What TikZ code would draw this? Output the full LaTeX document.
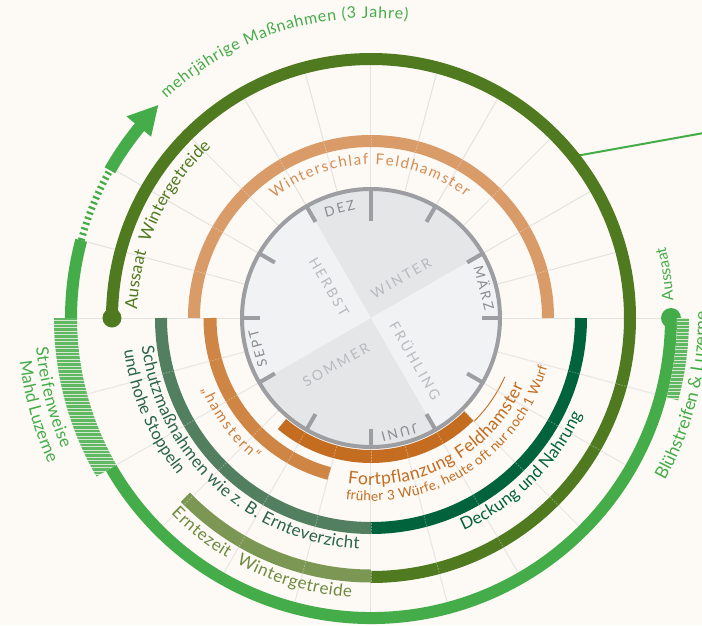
\documentclass[tikz,border=0pt]{standalone}
\usepackage{fontspec}
\setmainfont{Lato}
\newfontfamily\spacedfont[LetterSpace=18]{Lato}
\usetikzlibrary{decorations.text}
\definecolor{bg}{HTML}{FDF9F5}
\definecolor{gridc}{HTML}{E5E2DF}
\definecolor{qdark}{HTML}{E5E6E8}
\definecolor{qlight}{HTML}{F1F2F4}
\definecolor{ringgray}{HTML}{9D9EA2}
\definecolor{monthc}{HTML}{8A8B8F}
\definecolor{seasonc}{HTML}{B8B9BC}
\definecolor{tan}{HTML}{D99C69}
\definecolor{tantext}{HTML}{D38D55}
\definecolor{org}{HTML}{CF8543}
\definecolor{orgtext}{HTML}{CC7E3B}
\definecolor{dorg}{HTML}{C46C1F}
\definecolor{teal}{HTML}{537F61}
\definecolor{tealtext}{HTML}{29644A}
\definecolor{dgreen}{HTML}{00633B}
\definecolor{oliv}{HTML}{4F7A20}
\definecolor{olivL}{HTML}{7C9753}
\definecolor{olivtext}{HTML}{6E8A40}
\definecolor{bgreen}{HTML}{44AC48}
\newcommand{\fsz}[1]{\fontsize{#1}{#1}\selectfont}
% #1 format, #2 radius, #3 start angle, #4 end angle, #5 alignment, #6 text
\newcommand{\arctext}[6]{%
  \path[decorate,decoration={text along path,text={|#1|#6},text align={#5}}]
    (#3:#2pt) arc[start angle=#3,end angle=#4,radius=#2pt];}
\tikzset{
  gridline/.style={gridc,line width=1pt},
  gridover/.style={white,opacity=0.35,line width=0.9pt,dash pattern=on 1.5pt off 1.5pt},
  band/.style={line width=12pt},
  hatchline/.style={bgreen!85!white,line width=0.5pt},
  month/.style={font={\spacedfont\fsz{13.5}},text=monthc,inner sep=0pt},
  season/.style={font={\spacedfont\fsz{14}},text=seasonc,inner sep=0pt},
  tickline/.style={ringgray,line width=4pt},
}
\begin{document}
\begin{tikzpicture}[x=1pt,y=1pt]
\fill[bg] (-371,-307) rectangle (331,318);
\useasboundingbox (-371,-307) rectangle (331,318);

% grid lines
\foreach \a in {15,30,...,135} \draw[gridline] (\a:131pt) -- (\a:253pt);
\foreach \a in {150,165} \draw[gridline] (\a:131pt) -- (\a:294pt);
\foreach \a in {195,210,...,345} \draw[gridline] (\a:131pt) -- (\a:294pt);
\draw[gridline] (-316,0) -- (300,0);

% connector line to the right
\coordinate (cstart) at (38.6:259pt);
\coordinate (cend) at (345,187.2);
\draw[bgreen,line width=2pt] (cstart) -- (cend);

% rings
\draw[band,tan] (180:177pt) arc[start angle=180,end angle=0,radius=177pt];
\draw[band,org,line width=13pt] (180:161pt) arc[start angle=180,end angle=255,radius=161pt];
\draw[band,dorg,line width=13pt] (230:138.5pt) arc[start angle=230,end angle=315,radius=138.5pt];
\draw[dorg,line width=0.9pt] (-45:146pt) arc[start angle=-45,end angle=-24,radius=148pt];
\draw[band,teal] (180:210pt) arc[start angle=180,end angle=270,radius=210pt];
\draw[band,dgreen] (270:210pt) arc[start angle=270,end angle=360,radius=210pt];
\draw[band,oliv] (180:259pt) arc[start angle=180,end angle=-90,radius=259pt];
\draw[band,olivL,line width=13pt] (224:258pt) arc[start angle=224,end angle=270,radius=258pt];
\fill[oliv] (180:259pt) circle[radius=9.5pt];

% bright green outer ring
\draw[band,bgreen] (210:300pt) arc[start angle=210,end angle=360,radius=300pt];
\fill[bgreen] (0:300pt) circle[radius=10pt];
\draw[band,bgreen] (180:300pt) arc[start angle=180,end angle=165,radius=300pt];
\draw[bgreen,line width=7pt,dash pattern=on 2.2pt off 3.3pt] (165:300pt) arc[start angle=165,end angle=150.5,radius=300pt];
\draw[band,bgreen] (150.5:300pt) arc[start angle=150.5,end angle=139.3,radius=300pt];
\fill[bgreen] (135:301pt) -- (140.5:317pt) -- (140.5:285pt) -- cycle;

% hatched parts
\begin{scope}
  \clip (180:294pt) arc[start angle=180,end angle=210,radius=294pt] -- (210:317pt) arc[start angle=210,end angle=180,radius=317pt] -- cycle;
  \fill[bgreen!22!bg] (-330,-170) rectangle (-240,1);
  \foreach \yy in {0,-1.4,...,-170} \draw[hatchline] (-330,\yy) -- (-240,\yy);
\end{scope}
\begin{scope}
  \clip (0:306pt) arc[start angle=0,end angle=-15,radius=306pt] -- (-15:318pt) arc[start angle=-15,end angle=0,radius=318pt] -- cycle;
  \fill[bgreen!22!bg] (290,-90) rectangle (330,0);
  \foreach \yy in {-1,-2.4,...,-90} \draw[hatchline] (290,\yy) -- (330,\yy);
\end{scope}

% faint grid over the rings
\foreach \a in {15,30,...,165} \draw[gridover] (\a:160pt) -- (\a:185pt);
\foreach \a in {195,210,...,345} \draw[gridover] (\a:133pt) -- (\a:294pt);

% inner disc
\fill[qdark] (0,0) -- (30:129pt) arc[start angle=30,end angle=120,radius=129pt] -- cycle;
\fill[qlight] (0,0) -- (120:129pt) arc[start angle=120,end angle=210,radius=129pt] -- cycle;
\fill[qdark] (0,0) -- (210:129pt) arc[start angle=210,end angle=300,radius=129pt] -- cycle;
\fill[qlight] (0,0) -- (300:129pt) arc[start angle=300,end angle=390,radius=129pt] -- cycle;
\draw[ringgray,line width=4pt] (0,0) circle[radius=129pt];
\foreach \a in {0,30,...,330} \draw[tickline] (\a:129pt) -- (\a:111pt);
\draw[tickline] (90:129pt) -- (90:97pt);

% months and seasons
\node[month,rotate=15] (dez) at (106:114pt) {DEZ};
\node[month,rotate=-75] (maerz) at (15:118pt) {MÄRZ};
\node[month,rotate=-165] (juni) at (-76:118pt) {JUNI};
\node[month,rotate=105] (sept) at (195:117pt) {SEPT};
\node[season,rotate=30] (winter) at (30,40) {WINTER};
\node[season,rotate=-60] (herbst) at (-42,31) {HERBST};
\node[season,rotate=-60] (fruehling) at (45,-42) {FRÜHLING};
\node[season,rotate=30] (sommer) at (-35,-47) {SOMMER};

% arc texts
\arctext{\fsz{16}\color{bgreen}}{300}{133}{83}{fit to path}{mehrjährige Maßnahmen (3 Jahre)}
\arctext{\fsz{17}\color{oliv}}{234}{178}{133}{fit to path}{Aussaat{\kern5pt} Wintergetreide}
\arctext{\fsz{15}\color{tantext}}{153.5}{129}{52}{fit to path}{Winterschlaf Feldhamster}
\arctext{\fsz{15}\color{orgtext}}{184}{203}{231}{fit to path}{„hamstern“}
\arctext{\fsz{17}\color{tealtext}}{231}{187}{267}{fit to path}{Schutzmaßnahmen wie z. B. Ernteverzicht}
\arctext{\fsz{16.5}\color{tealtext}}{249}{187.4}{219}{fit to path}{und hohe Stoppeln}
\arctext{\fsz{17}\color{olivtext}}{280}{224.4}{266}{fit to path}{Erntezeit{\kern5pt} Wintergetreide}
\arctext{\fsz{17}\color{dgreen}}{232}{-66.5}{-24.6}{fit to path}{Deckung und Nahrung}
\arctext{\fsz{17.5}\color{dorg}}{167}{262}{336}{fit to path}{Fortpflanzung Feldhamster}
\arctext{\fsz{13.5}\color{dorg}}{183}{262}{344.5}{fit to path}{früher 3 Würfe, heute oft nur noch 1 Wurf}
\arctext{\fsz{17}\color{bgreen}}{336}{185}{203}{fit to path}{Streifenweise}
\arctext{\fsz{17}\color{bgreen}}{354}{187}{204}{fit to path}{Mahd Luzerne}
\arctext{\fsz{15.5}\color{bgreen}}{303}{3.4}{13.6}{fit to path}{Aussaat}
\arctext{\fsz{17.5}\color{bgreen}}{336}{-29}{40}{left}{Blühstreifen {\&} Luzerne}
\end{tikzpicture}
\end{document}
